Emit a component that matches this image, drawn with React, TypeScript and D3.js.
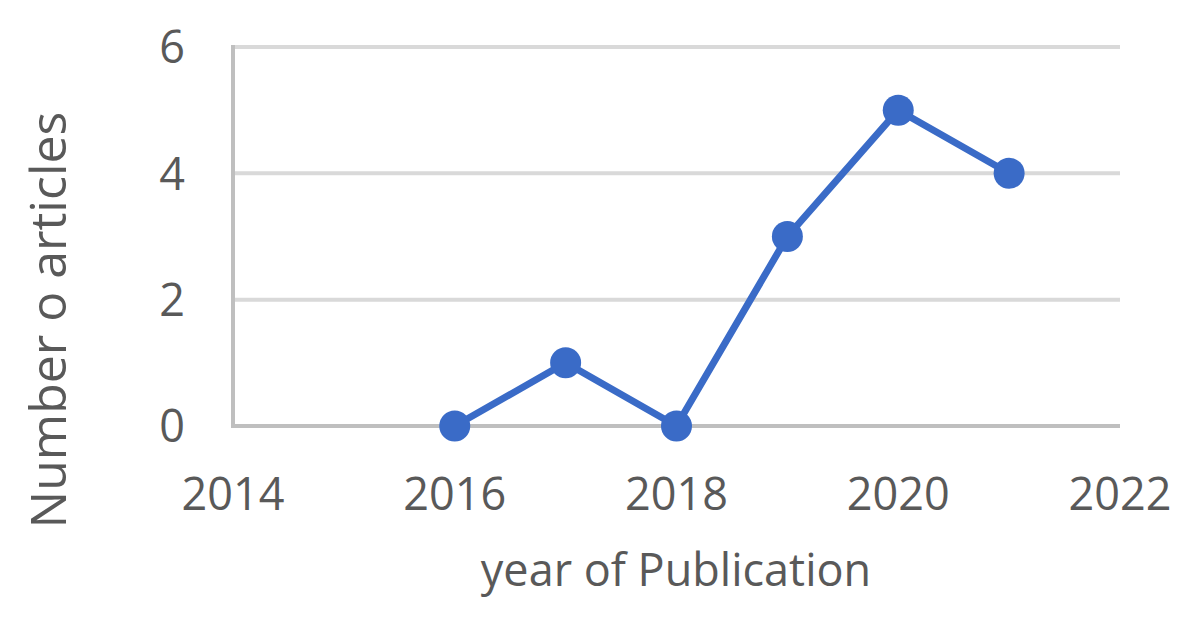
import React from "react";
import * as d3 from "d3";

const years = [2016, 2017, 2018, 2019, 2020, 2021];
const articles = [0, 1, 0, 3, 5, 4];
const xTicks = [2014, 2016, 2018, 2020, 2022];
const yTicks = [0, 2, 4, 6];
const xTitle = "year of Publication";
const yTitle = "Number o articles";

const W = 1189;
const H = 619;
const FONT = "'Open Sans', 'Noto Sans', sans-serif";
const TEXT = "#595959";

export default function App() {
  const x = d3.scaleLinear().domain([2014, 2022]).range([233, 1120]);
  const y = d3.scaleLinear().domain([0, 6]).range([426, 47]);
  const line = d3
    .line<number>()
    .x((_, i) => x(years[i]))
    .y((d) => y(d));

  return (
    <svg
      width={W}
      height={H}
      style={{ position: "absolute", left: 0, top: 0, background: "#fff" }}
      fontFamily={FONT}
    >
      {yTicks.map((t) => (
        <g key={t}>
          {t !== 0 && (
            <line x1={x(2014)} x2={x(2022)} y1={y(t)} y2={y(t)} stroke="#d9d9d9" strokeWidth={4} />
          )}
          <text x={185} y={y(t)} dy="0.36em" textAnchor="end" fontSize={45} fill={TEXT}>
            {t}
          </text>
        </g>
      ))}
      <line x1={x(2014)} x2={x(2022)} y1={y(0)} y2={y(0)} stroke="#bfbfbf" strokeWidth={4} />
      <line x1={x(2014)} x2={x(2014)} y1={y(6) - 2} y2={y(0) + 2} stroke="#bfbfbf" strokeWidth={4} />
      {xTicks.map((t) => (
        <text key={t} x={x(t)} y={510} textAnchor="middle" fontSize={45} fill={TEXT}>
          {t}
        </text>
      ))}
      <path d={line(articles) || ""} fill="none" stroke="#3a6bc7" strokeWidth={7} strokeLinejoin="round" />
      {articles.map((v, i) => (
        <circle key={i} cx={x(years[i])} cy={y(v)} r={15.5} fill="#3a6bc7" />
      ))}
      <text x={676} y={586} textAnchor="middle" fontSize={45} fill={TEXT}>
        {xTitle}
      </text>
      <text
        transform={`translate(66, 320) rotate(-90)`}
        textAnchor="middle"
        fontSize={50}
        fill={TEXT}
      >
        {yTitle}
      </text>
    </svg>
  );
}
